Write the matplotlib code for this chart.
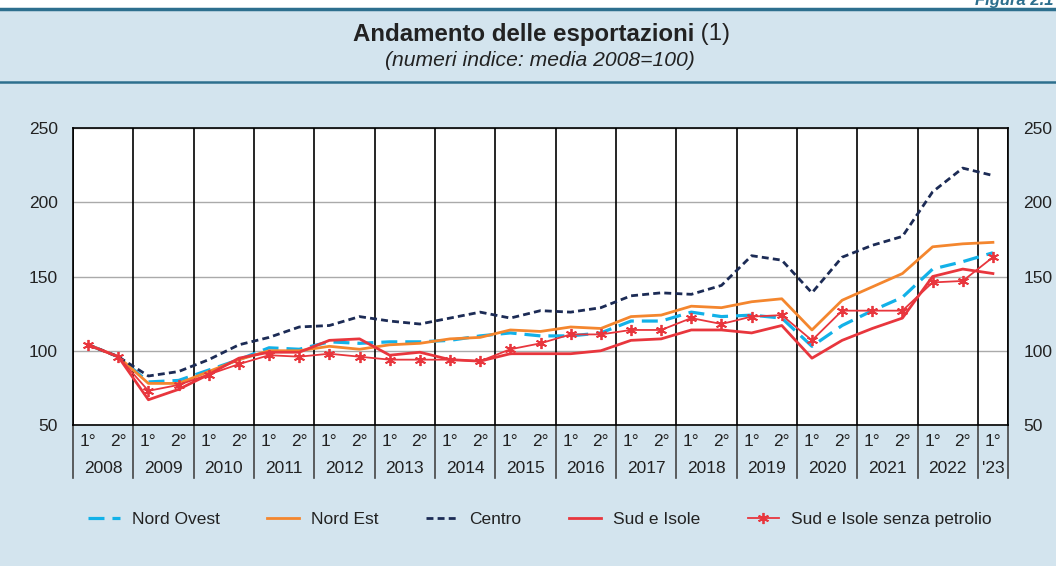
import numpy as np
import matplotlib
import matplotlib.pyplot as plt
from matplotlib.lines import Line2D
from matplotlib.patches import Rectangle
import matplotlib.transforms as mtransforms

matplotlib.use('Agg')
plt.rcParams['font.family'] = ['Liberation Sans', 'DejaVu Sans']

# data (semesters 2008 H1 .. 2023 H1)
years = ['2008', '2009', '2010', '2011', '2012', '2013', '2014', '2015',
         '2016', '2017', '2018', '2019', '2020', '2021', '2022', "'23"]
semesters = ['1°', '2°'] * 15 + ['1°']

nord_ovest = [104, 96, 79, 80, 87, 94, 102, 101, 106, 105, 106, 106, 107, 110, 112, 110,
              110, 112, 120, 120, 126, 123, 124, 122, 103, 117, 127, 136, 155, 160, 166]
nord_est = [104, 96, 78, 78, 86, 94, 100, 100, 103, 101, 104, 105, 108, 109, 114, 113,
            116, 115, 123, 124, 130, 129, 133, 135, 114, 134, 143, 152, 170, 172, 173]
centro = [104, 96, 83, 86, 94, 104, 109, 116, 117, 123, 120, 118, 122, 126, 122, 127,
          126, 129, 137, 139, 138, 144, 164, 161, 139, 163, 171, 177, 207, 223, 218]
sud_isole = [104, 96, 67, 74, 84, 95, 99, 99, 107, 108, 97, 99, 94, 93, 98, 98,
             98, 100, 107, 108, 114, 114, 112, 117, 95, 107, 115, 122, 150, 155, 152]
sud_senza_petrolio = [104, 96, 73, 77, 84, 91, 97, 96, 98, 96, 94, 94, 94, 93, 101, 105,
                      111, 111, 114, 114, 122, 118, 123, 124, 107, 127, 127, 127, 146, 147, 163]

bg = '#D3E4EE'
teal = '#2D6F8E'
c_ovest = '#12B1E8'
c_est = '#F4862E'
c_centro = '#1C2B55'
c_sud = '#E8363D'
txt = '#222222'

fig = plt.figure(figsize=(10.56, 5.66), dpi=100, facecolor=bg)
# white strip on top + header lines
fig.patches.append(Rectangle((0, 1 - 8 / 566), 1, 8 / 566, transform=fig.transFigure,
                             facecolor='white', edgecolor='none', zorder=0))
fig.add_artist(Line2D([0, 1], [1 - 9 / 566, 1 - 9 / 566], transform=fig.transFigure,
                      color=teal, lw=2.5))
fig.add_artist(Line2D([0, 1], [1 - 82 / 566, 1 - 82 / 566], transform=fig.transFigure,
                      color=teal, lw=1.8))
fig.text(0.998, 1 - 1 / 566, 'Figura 2.1', ha='right', va='center', fontsize=12,
         fontweight='bold', style='italic', color=teal)

fig.text(694 / 1056, 1 - 34 / 566, 'Andamento delle esportazioni', ha='right', va='center',
         fontsize=17.3, fontweight='bold', color=txt)
fig.text(694 / 1056, 1 - 34 / 566, ' (1)', ha='left', va='center', fontsize=17.3, color=txt)
fig.text(540 / 1056, 1 - 60 / 566, '(numeri indice: media 2008=100)', ha='center', va='center',
         fontsize=15.2, style='italic', color=txt)

ax = fig.add_axes([73 / 1056, 141 / 566, 935 / 1056, 297 / 566])
ax.set_facecolor('white')
x = np.arange(len(centro))

ax.plot(x, nord_ovest, color=c_ovest, lw=2.3, dashes=(5, 2.5), label='Nord Ovest', zorder=3)
ax.plot(x, nord_est, color=c_est, lw=2.0, label='Nord Est', zorder=3)
ax.plot(x, centro, color=c_centro, lw=2.0, dashes=(2.5, 1.5), label='Centro', zorder=3)
ax.plot(x, sud_isole, color=c_sud, lw=2.0, label='Sud e Isole', zorder=4)
ax.plot(x, sud_senza_petrolio, color=c_sud, lw=1.3, marker=(6, 2, 0), markersize=8,
        markeredgewidth=1.3, label='Sud e Isole senza petrolio', zorder=4)

ax.set_xlim(-0.5, len(centro) - 0.5)
ax.set_ylim(50, 250)
ax.set_yticks([50, 100, 150, 200, 250])
ax.yaxis.grid(True, color='#AAAAAA', lw=1)
ax.set_axisbelow(True)
ax.set_xticks([])
ax.tick_params(axis='y', length=0, labelsize=12.5, labelcolor=txt,
               labelleft=True, labelright=True, pad=11)
for s in ax.spines.values():
    s.set_color('black')
    s.set_linewidth(1.2)

# year separators, extended down through the category table
trans = mtransforms.blended_transform_factory(ax.transData, ax.transAxes)
bounds = list(np.arange(-0.5, len(centro), 2)) + [len(centro) - 0.5]
for b in bounds:
    ax.plot([b, b], [0, 1], color='black', lw=1.2, transform=trans, zorder=2)
    ax.plot([b, b], [0, -0.178], color='#444444', lw=1.2, transform=trans,
            clip_on=False, zorder=2)

for i, s in enumerate(semesters):
    ax.text(i, -0.054, s, transform=trans, ha='center', va='center', fontsize=12.5, color=txt)
for k, y in enumerate(years):
    xc = min(2 * k + 0.5, len(centro) - 1)
    ax.text(xc, -0.145, y, transform=trans, ha='center', va='center', fontsize=12.5, color=txt)

handles, labels = ax.get_legend_handles_labels()
fig.legend(handles, labels, loc='center', bbox_to_anchor=(540 / 1056, 1 - 519 / 566), ncol=5,
           frameon=False, fontsize=12.5, handlelength=1.8, columnspacing=2.75,
           handletextpad=0.7, labelcolor=txt)

fig.savefig('out.png', dpi=100, facecolor=bg)
